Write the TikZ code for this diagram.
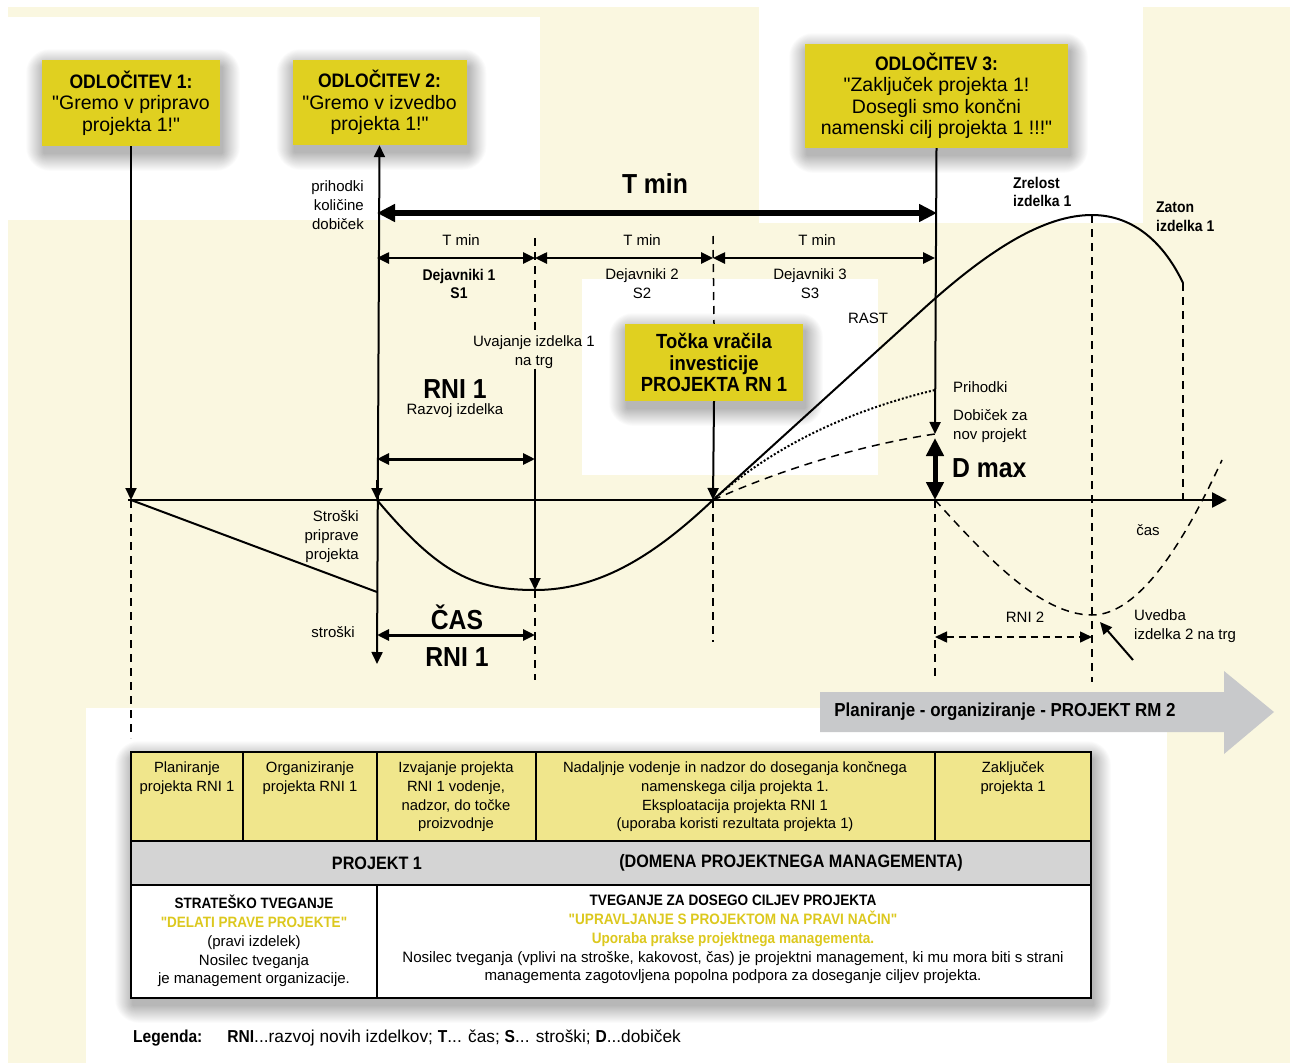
\documentclass[tikz,border=0pt]{standalone}
\usepackage{fontspec}
\defaultfontfeatures[\rmfamily]{}
\setmainfont{Liberation Sans}[BoldFeatures={FakeStretch=0.9}]
\usetikzlibrary{arrows.meta}
\definecolor{cream}{HTML}{FAF7E0}
\definecolor{boxyellow}{HTML}{E0D020}
\definecolor{tabyellow}{HTML}{F0E68C}
\definecolor{tabgrey}{HTML}{D4D4D4}
\definecolor{arrgrey}{HTML}{C8C9CB}
\definecolor{txtyellow}{HTML}{DCC81E}
\newcommand\softshadow[4]{%
  \foreach \k in {1,...,24}{%
    \fill[black, opacity=0.011, rounded corners=\k pt] (#1-0.75*\k+2, #2-0.75*\k+7) rectangle (#3+0.75*\k+2, #4+0.75*\k+7);}}
\begin{document}
\begin{tikzpicture}[x=1pt,y=-1pt,
  ybox/.style={fill=boxyellow, align=center, inner sep=0pt,
    font=\fontsize{19.5}{21.5}\selectfont},
  lbl/.style={inner sep=0pt, align=center, font=\fontsize{15}{19}\selectfont},
  lblb/.style={inner sep=0pt, align=center, font=\bfseries\fontsize{15.5}{18.5}\selectfont},
  big/.style={inner sep=0pt, font=\bfseries\fontsize{27.5}{30}\selectfont},
  cell/.style={inner sep=0pt, align=center, anchor=north, font=\fontsize{14.8}{18.6}\selectfont},
  solidln/.style={line width=2pt},
  dashln/.style={line width=1.5pt, dash pattern=on 8pt off 6pt},
  tip/.tip={Triangle[length=12pt,width=11pt]},
  bigtip/.tip={Triangle[length=18pt,width=17pt]}
]
\useasboundingbox (0,0) rectangle (1290,1063);
% background
\fill[white] (0,0) rectangle (1290,1063);
\fill[cream] (8,7) rectangle (1290,1063);
\fill[white] (8,17) rectangle (540,220);
\fill[white] (759,0) rectangle (1143,223);
\fill[white] (582,279) rectangle (878,475);
\fill[white] (86,708) rectangle (1167,1063);

% grey arrow
\fill[arrgrey] (820,692) -- (1224,692) -- (1224,671) -- (1274,712) -- (1224,754) -- (1224,732) -- (820,732) -- cycle;
\node[inner sep=0pt, font=\bfseries\fontsize{18.8}{20}\selectfont] (rm2) at (1005,712) {Planiranje - organiziranje - PROJEKT RM 2};

% shadows
\softshadow{42}{60}{220}{146}
\softshadow{292.5}{60}{466.5}{145}
\softshadow{805}{44}{1068}{148}
\softshadow{625}{324}{803}{401}

% decision boxes
\node[ybox, minimum width=178pt, minimum height=86pt] (d1) at (131,103) {\textbf{ODLOČITEV 1:}\\"Gremo v pripravo\\projekta 1!"};
\node[ybox, minimum width=174pt, minimum height=85pt] (d2) at (379.5,102.5) {\textbf{ODLOČITEV 2:}\\"Gremo v izvedbo\\projekta 1!"};
\node[ybox, minimum width=263pt, minimum height=104pt] (d3) at (936.5,96) {\textbf{ODLOČITEV 3:}\\"Zaključek projekta 1!\\Dosegli smo končni\\namenski cilj projekta 1 !!!"};
\node[ybox, minimum width=178pt, minimum height=77pt, font=\bfseries\fontsize{20.5}{21.5}\selectfont] (tv) at (714,362.5) {Točka vračila\\investicije\\PROJEKTA RN 1};

% coordinates
\coordinate (ax0) at (128,500);
\coordinate (ax1) at (1227,500);
\coordinate (p131) at (131,500);
\coordinate (q131) at (131,738);
\coordinate (p377) at (377,500);
\coordinate (a377) at (377,480);
\coordinate (b377) at (377,664);
\coordinate (t535) at (535,238);
\coordinate (u535) at (535,331);
\coordinate (m535) at (535,590);
\coordinate (e535) at (535,680);
\coordinate (t713) at (713,236);
\coordinate (p713) at (713,500);
\coordinate (e713) at (713,642);
\coordinate (g935) at (935,434);
\coordinate (p935) at (935,500);
\coordinate (e935) at (935,680);
\coordinate (top1092) at (1092,215);
\coordinate (e1092) at (1092,682);
\coordinate (top1183) at (1183,283);
\coordinate (p1183) at (1183,500);
\coordinate (min2) at (1092,615);

% axis
\draw[line width=2.5pt, -{Triangle[length=15pt,width=15pt]}] (ax0) -- (ax1);

% verticals
\draw[solidln, -tip] (d1.south) -- (p131);
\draw[dashln] (p131) -- (q131);
\draw[solidln, tip-tip] (d2.south) -- (b377);
\draw[solidln, -tip] (a377) -- (p377);
\draw[dashln] (t535) -- (u535);
\node[lbl] (uv) at (534,352) {Uvajanje izdelka 1\\na trg};
\draw[solidln, -tip] (uv.south -| m535) -- (m535);
\draw[dashln] (m535) -- (e535);
\draw[dashln] (t713) -- (tv.north);
\draw[solidln, -tip] (tv.south) -- (p713);
\draw[dashln] (p713) -- (e713);
\draw[solidln, -tip] (d3.south) -- (g935);
\draw[line width=5pt, bigtip-bigtip] (935,438) -- (p935);
\draw[dashln] (p935) -- (e935);
\draw[dashln] (top1092) -- (e1092);
\draw[dashln] (top1183) -- (p1183);

% T min arrows
\coordinate (tm0) at (377,213);
\coordinate (tm1) at (937,213);
\draw[line width=6pt, bigtip-bigtip] (tm0) -- (tm1);
\node[big] (tminbig) at (655,184) {T min};
\coordinate (s0) at (377,258);
\coordinate (s1) at (535,258);
\coordinate (s2) at (713,258);
\coordinate (s3) at (935,258);
\draw[line width=2.5pt, tip-tip] (s0) -- (s1);
\draw[line width=2.5pt, tip-tip] (s1) -- (s2);
\draw[line width=2.5pt, tip-tip] (s2) -- (s3);
\node[lbl] (tm1l) at (461,240) {T min};
\node[lbl] (tm2l) at (642,240) {T min};
\node[lbl] (tm3l) at (817,240) {T min};
\node[lblb] (dj1) at (459,284) {Dejavniki 1\\S1};
\node[lbl] (dj2) at (642,284) {Dejavniki 2\\S2};
\node[lbl] (dj3) at (810,284) {Dejavniki 3\\S3};

% left labels
\node[lbl, anchor=east, align=right] (prih) at (364,205) {prihodki\\količine\\dobiček};
\node[lbl, anchor=east, align=right] (strp) at (359,537) {Stroški\\priprave\\projekta};
\node[lbl] (str) at (333,632) {stroški};

% RNI 1
\node[big] (rni1) at (455,389) {RNI 1};
\node[lbl] (razv) at (455,411) {Razvoj izdelka};
\coordinate (r0) at (377,459);
\coordinate (r1) at (535,459);
\draw[line width=3pt, tip-tip] (r0) -- (r1);
\node[big] (cas) at (457,617) {ČAS};
\coordinate (c0) at (377,635);
\coordinate (c1) at (535,635);
\draw[line width=3pt, tip-tip] (c0) -- (c1);
\node[big] (rni1b) at (457,657) {RNI 1};

% curves
\draw[solidln] (p131) -- (377,592);
\draw[solidln] (p377) .. controls (440,575) and (475,590) .. (m535)
  .. controls (600,590) and (655,555) .. (p713) -- (920,312)
  .. controls (990,248) and (1045,215) .. (top1092)
  .. controls (1135,215) and (1165,245) .. (top1183);
\draw[line width=2pt, dotted] (p713) .. controls (780,440) and (860,408) .. (935,390);
\draw[line width=1.5pt, dash pattern=on 8pt off 6pt] (p713) .. controls (780,470) and (860,445) .. (g935);
\draw[dashln] (p935) .. controls (985,555) and (1040,615) .. (min2)
  .. controls (1140,615) and (1185,540) .. (1222,460);

% right labels
\node[lbl] (rast) at (868,318) {RAST};
\node[lbl, anchor=west] (prihr) at (953,387) {Prihodki};
\node[lbl, anchor=west, align=left] (dob) at (953,426.5) {Dobiček za\\nov projekt};
\node[big, anchor=west] (dmax) at (952,468) {D max};
\node[lblb, anchor=west, align=left] (zrel) at (1013,192) {Zrelost\\izdelka 1};
\node[lblb, anchor=west, align=left] (zat) at (1156,216.5) {Zaton\\izdelka 1};
\node[lbl] (cas2) at (1148,530) {čas};
\node[lbl] (rni2) at (1025,617) {RNI 2};
\coordinate (n0) at (935,637);
\coordinate (n1) at (1092,637);
\draw[line width=1.5pt, dash pattern=on 7pt off 5pt, tip-tip] (n0) -- (n1);
\node[lbl, anchor=west, align=left] (uved) at (1134,626) {Uvedba\\izdelka 2 na trg};
\coordinate (ua) at (1133,660);
\coordinate (ub) at (1100,622);
\draw[solidln, -tip] (ua) -- (ub);

% table
\softshadow{131}{752}{1091}{998}
\fill[white] (131,752) rectangle (1091,998);
\fill[tabyellow] (131,752) rectangle (1091,841);
\fill[tabgrey] (131,841) rectangle (1091,885);
\draw[line width=2.2pt] (131,752) rectangle (1091,998);
\draw[line width=2.2pt] (131,841) -- (1091,841);
\draw[line width=2.2pt] (131,885) -- (1091,885);
\draw[line width=2pt] (243,752) -- (243,841);
\draw[line width=2pt] (377,752) -- (377,841);
\draw[line width=2pt] (536,752) -- (536,841);
\draw[line width=2pt] (935,752) -- (935,841);
\draw[line width=2pt] (377,885) -- (377,998);
\node[cell] (c1t) at (187,762) {Planiranje\\projekta RNI 1};
\node[cell] (c2t) at (310,762) {Organiziranje\\projekta RNI 1};
\node[cell] (c3t) at (456,762) {Izvajanje projekta\\RNI 1 vodenje,\\nadzor, do točke\\proizvodnje};
\node[cell] (c4t) at (735,762) {Nadaljnje vodenje in nadzor do doseganja končnega\\namenskega cilja projekta 1.\\Eksploatacija projekta RNI 1\\(uporaba koristi rezultata projekta 1)};
\node[cell] (c5t) at (1013,762) {Zaključek\\projekta 1};
\node[inner sep=0pt, font=\bfseries\fontsize{18}{20}\selectfont] (pr1) at (377,863) {PROJEKT 1};
\node[inner sep=0pt, font=\bfseries\fontsize{18}{20}\selectfont] (dom) at (791,863) {(DOMENA PROJEKTNEGA MANAGEMENTA)};
\node[cell, font=\fontsize{15}{18.8}\selectfont] (b1) at (254,895) {\textbf{STRATEŠKO TVEGANJE}\\\textcolor{txtyellow}{\textbf{"DELATI PRAVE PROJEKTE"}}\\(pravi izdelek)\\Nosilec tveganja\\je management organizacije.};
\node[cell, font=\fontsize{15.1}{18.8}\selectfont] (b2) at (733,895) {\textbf{TVEGANJE ZA DOSEGO CILJEV PROJEKTA}\\\textcolor{txtyellow}{\textbf{"UPRAVLJANJE S PROJEKTOM NA PRAVI NAČIN"}}\\\textcolor{txtyellow}{\textbf{Uporaba prakse projektnega managementa.}}\\Nosilec tveganja (vplivi na stroške, kakovost, čas) je projektni management, ki mu mora biti s strani\\managementa zagotovljena popolna podpora za doseganje ciljev projekta.};

% legend
\node[inner sep=0pt, anchor=west, font=\fontsize{17.3}{19}\selectfont] (leg) at (133,1038) {\textbf{Legenda:}\hspace{25pt}\textbf{RNI}...razvoj novih izdelkov; \textbf{T}... čas; \textbf{S}... stroški; \textbf{D}...dobiček};
\end{tikzpicture}
\end{document}
